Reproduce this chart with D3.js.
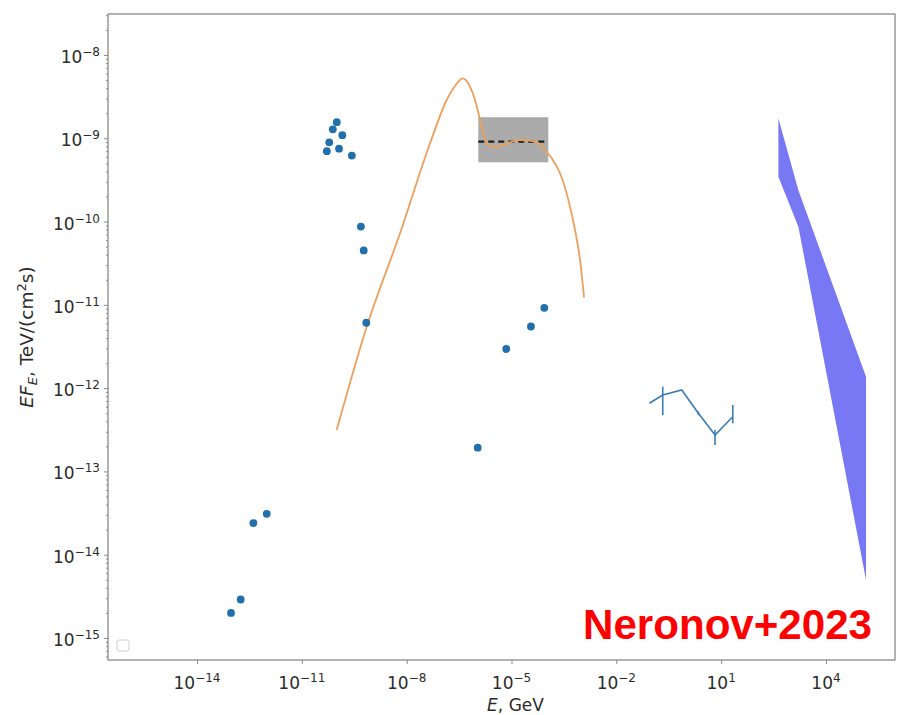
<!DOCTYPE html>
<html>
<head>
<meta charset="utf-8">
<script src="https://cdn.jsdelivr.net/npm/d3@7"></script>
<style>
  body { margin: 0; background: #fff; }
  svg { display: block; }
</style>
</head>
<body>
<svg id="chart" width="900" height="715"></svg>
<script>
// ---- data (E in GeV, E*F_E in TeV/(cm^2 s)) ----
const pointsE = [1.0e-10, 7.7e-11, 1.44e-10, 6.1e-11, 1.16e-10, 5.2e-11, 2.7e-10, 4.9e-10, 5.9e-10, 7.0e-10,
                 9.9e-13, 4.1e-13, 1.78e-13, 9.4e-14, 8.7e-5, 3.6e-5, 7.1e-6, 1.08e-6];
const pointsF = [1.56e-9, 1.28e-9, 1.09e-9, 8.95e-10, 7.5e-10, 7.0e-10, 6.2e-10, 8.7e-11, 4.5e-11, 6.1e-12,
                 3.1e-14, 2.4e-14, 2.9e-15, 2.0e-15, 9.2e-12, 5.5e-12, 2.95e-12, 1.93e-13];

const modelE = [9.95e-11, 7.19e-10, 6.46e-9, 4.67e-8, 1.40e-7, 2.42e-7, 4.02e-7, 6.50e-7, 9.06e-7, 1.20e-6,
                1.56e-6, 2.17e-6, 3.38e-6, 5.83e-6, 1.02e-5, 1.75e-5, 3.40e-5, 5.86e-5, 9.12e-5, 1.42e-4,
                2.45e-4, 4.24e-4, 6.59e-4, 9.16e-4, 1.19e-3];
const modelF = [3.15e-13, 5.47e-12, 7.23e-11, 8.71e-10, 2.88e-9, 4.25e-9, 5.25e-9, 4.16e-9, 2.88e-9, 1.82e-9,
                1.15e-9, 8.30e-10, 7.80e-10, 8.30e-10, 9.10e-10, 9.53e-10, 9.35e-10, 8.71e-10, 7.23e-10, 5.75e-10,
                3.80e-10, 1.82e-10, 7.92e-11, 3.46e-11, 1.23e-11];

const boxE = [1.12e-6, 1.13e-4];
const boxF = [5.15e-10, 1.79e-9];
const boxLevel = 9.1e-10;

const segE = [8.81e-2, 0.213, 0.745, 2.23, 6.68, 21.5];
const segF = [6.58e-13, 8.28e-13, 9.51e-13, 4.99e-13, 2.74e-13, 4.54e-13];
const segLo = [null, 4.76e-13, null, 4.75e-13, 2.08e-13, 3.78e-13];
const segHi = [null, 1.04e-12, null, 5.25e-13, 3.15e-13, 6.28e-13];

const bandE = [434, 1622, 1.40e5];
const bandUpper = [1.74e-9, 2.38e-10, 1.37e-12];
const bandLower = [3.46e-10, 8.69e-11, 4.98e-15];

const xTickExp = [-14, -11, -8, -5, -2, 1, 4];
const yTickExp = [-15, -14, -13, -12, -11, -10, -9, -8];

// ---- layout ----
const svg = d3.select("#chart");
const plotL = 108, plotR = 895, plotT = 14, plotB = 660;

const x = d3.scaleLog().domain([10 ** -16.547, 10 ** 5.975]).range([plotL, plotR]);
const y = d3.scaleLog().domain([10 ** -15.264, 10 ** -7.508]).range([plotB, plotT]);

const FONT = "'DejaVu Sans', sans-serif";
const TXT = "#2b2b2b";
const SPINE = "#8a8a8a";

// ---- marks ----
// gray band with dashed level
svg.append("rect")
  .attr("x", x(boxE[0])).attr("y", y(boxF[1]))
  .attr("width", x(boxE[1]) - x(boxE[0]))
  .attr("height", y(boxF[0]) - y(boxF[1]))
  .attr("fill", "#ababab");

svg.append("line")
  .attr("x1", x(boxE[0])).attr("x2", x(boxE[1]))
  .attr("y1", y(boxLevel)).attr("y2", y(boxLevel))
  .attr("stroke", "#1e1e1e").attr("stroke-width", 2.2)
  .attr("stroke-dasharray", "6,4");

// model curve
const modelPts = modelE.map((e, i) => [x(e), y(modelF[i])]);
svg.append("path")
  .attr("d", d3.line().curve(d3.curveMonotoneX)(modelPts))
  .attr("fill", "none").attr("stroke", "#eca05a").attr("stroke-width", 1.8);

// purple band
const bandData = bandE.map((e, i) => ({e, lo: bandLower[i], hi: bandUpper[i]}));
svg.append("path")
  .attr("d", d3.area().x(d => x(d.e)).y0(d => y(d.lo)).y1(d => y(d.hi))(bandData))
  .attr("fill", "#7878f5");

// measured segment with error bars
const segData = segE.map((e, i) => ({e, f: segF[i], lo: segLo[i], hi: segHi[i]}));
svg.append("path")
  .attr("d", d3.line().x(d => x(d.e)).y(d => y(d.f))(segData))
  .attr("fill", "none").attr("stroke", "#3a7db5").attr("stroke-width", 1.6);
svg.selectAll(".err").data(segData.filter(d => d.lo != null)).enter().append("line")
  .attr("x1", d => x(d.e)).attr("x2", d => x(d.e))
  .attr("y1", d => y(d.lo)).attr("y2", d => y(d.hi))
  .attr("stroke", "#3a7db5").attr("stroke-width", 1.6);

// scatter points
svg.selectAll(".pt").data(pointsE.map((e, i) => [e, pointsF[i]])).enter().append("circle")
  .attr("cx", d => x(d[0])).attr("cy", d => y(d[1]))
  .attr("r", 3.9).attr("fill", "#216fab");

// ---- axes ----
const gx = svg.append("g").attr("transform", `translate(0,${plotB})`)
  .call(d3.axisBottom(x).tickValues(xTickExp.map(k => 10 ** k)).tickSize(4).tickFormat(""));
const gy = svg.append("g").attr("transform", `translate(${plotL},0)`)
  .call(d3.axisLeft(y).tickValues(yTickExp.map(k => 10 ** k)).tickSize(4).tickFormat(""));

// minor y ticks
const minor = [];
for (let k = -16; k <= -8; k++) for (let m = 2; m <= 9; m++) {
  const v = m * 10 ** k;
  if (v >= y.domain()[0] && v <= y.domain()[1]) minor.push(v);
}
svg.append("g").attr("transform", `translate(${plotL},0)`)
  .call(d3.axisLeft(y).tickValues(minor).tickSize(2).tickFormat(""))
  .call(g => g.select(".domain").remove());

[gx, gy].forEach(g => g.select(".domain").remove());
svg.selectAll(".tick line").attr("stroke", SPINE).attr("stroke-width", 1);

// frame
svg.append("rect")
  .attr("x", plotL).attr("y", plotT).attr("width", plotR - plotL).attr("height", plotB - plotT)
  .attr("fill", "none").attr("stroke", SPINE).attr("stroke-width", 1.3);

// tick labels
function powerLabel(sel, k) {
  sel.append("tspan").text("10");
  sel.append("tspan").attr("dy", -7).attr("font-size", 12).text(k < 0 ? "\u2212" + (-k) : String(k));
}
xTickExp.forEach(k => {
  const t = svg.append("text")
    .attr("x", x(10 ** k)).attr("y", 689)
    .attr("text-anchor", "middle")
    .attr("font-family", FONT).attr("font-size", 17).attr("fill", TXT);
  powerLabel(t, k);
});
yTickExp.forEach(k => {
  const t = svg.append("text")
    .attr("x", 100).attr("y", y(10 ** k) + 8)
    .attr("text-anchor", "end")
    .attr("font-family", FONT).attr("font-size", 17).attr("fill", TXT);
  powerLabel(t, k);
});

// axis titles
const xl = svg.append("text")
  .attr("x", (plotL + plotR) / 2 + 14).attr("y", 711)
  .attr("text-anchor", "middle")
  .attr("font-family", FONT).attr("font-size", 17).attr("fill", TXT);
xl.append("tspan").attr("font-style", "italic").text("E");
xl.append("tspan").text(", GeV");

const yl = svg.append("text")
  .attr("transform", "translate(33,337) rotate(-90)")
  .attr("text-anchor", "middle")
  .attr("font-family", FONT).attr("font-size", 18.5).attr("fill", TXT);
yl.append("tspan").attr("font-style", "italic").text("EF");
yl.append("tspan").attr("font-style", "italic").attr("font-size", 13).attr("dy", 4).text("E");
yl.append("tspan").attr("dy", -4).text(", TeV/(cm");
yl.append("tspan").attr("font-size", 13).attr("dy", -7).text("2");
yl.append("tspan").attr("dy", 7).text("s)");

// empty legend frame
svg.append("rect")
  .attr("x", 117).attr("y", 640).attr("width", 12).attr("height", 11).attr("rx", 2)
  .attr("fill", "#fff").attr("stroke", "#cfcfcf").attr("stroke-width", 1);

// credit
svg.append("text")
  .attr("x", 583).attr("y", 639)
  .attr("font-family", "'Liberation Sans', Arial, sans-serif")
  .attr("font-weight", "bold").attr("font-size", 43).attr("fill", "#ff0000")
  .attr("textLength", 289).attr("lengthAdjust", "spacingAndGlyphs")
  .text("Neronov+2023");
</script>
</body>
</html>
